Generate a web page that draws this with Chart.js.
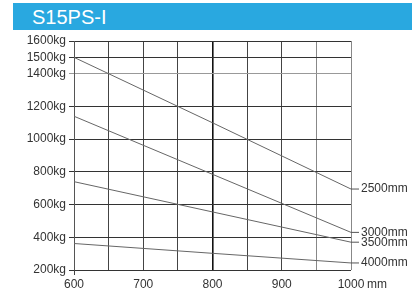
<!DOCTYPE html>
<html>
<head>
<meta charset="utf-8">
<script src="https://cdn.jsdelivr.net/npm/chart.js@4.4.0/dist/chart.umd.min.js"></script>
<style>
    html, body { margin: 0; padding: 0; background: #fff; }
    #wrap { position: relative; width: 412px; height: 294px; overflow: hidden; }
    #title {
        position: absolute; left: 13px; top: 3px; width: 399px; height: 27px;
        background: #29a8e0; color: #fff;
        font: 20px "Liberation Sans", Arial, sans-serif;
        line-height: 28px; padding-left: 19px; box-sizing: border-box;
    }
    canvas { position: absolute; left: 0; top: 0; }
</style>
</head>
<body>
<div id="wrap">
    <div id="title">S15PS-I</div>
    <canvas id="loadChart" width="412" height="294"></canvas>
</div>
<script>
// ============================================
// S15PS-I load chart: capacity vs load centre
// ============================================

const loadCentres = [600, 800, 1000];          // mm
const liftHeights = ['2500mm', '3000mm', '3500mm', '4000mm'];
const cap2500 = [1500, 1100, 695];             // kg
const cap3000 = [1140, 785, 430];
const cap3500 = [740, 555, 370];
const cap4000 = [362, 302, 243];
const yTicks = [200, 400, 600, 800, 1000, 1200, 1400, 1500, 1600];
const xTicks = [600, 700, 800, 900, 1000];

const FONT = '"Liberation Sans", Arial, sans-serif';
const TEXT = '#333';

function toPoints(values) {
    return loadCentres.map((x, i) => ({ x: x, y: values[i] }));
}

const seriesValues = [cap2500, cap3000, cap3500, cap4000];

// leader lines + labels at the right end of each curve
const endLabels = {
    id: 'endLabels',
    afterDatasetsDraw(chart) {
        const ctx = chart.ctx;
        ctx.save();
        ctx.font = '12px ' + FONT;
        ctx.fillStyle = TEXT;
        ctx.strokeStyle = '#555';
        ctx.lineWidth = 1;
        ctx.textBaseline = 'middle';
        ctx.textAlign = 'left';
        chart.data.datasets.forEach((ds, i) => {
            const pts = chart.getDatasetMeta(i).data;
            const last = pts[pts.length - 1];
            ctx.beginPath();
            ctx.moveTo(last.x, last.y);
            ctx.lineTo(last.x + 8, last.y);
            ctx.stroke();
            ctx.fillText(ds.label, last.x + 10, last.y);
        });
        // unit after the last x tick
        const xs = chart.scales.x;
        ctx.textBaseline = 'top';
        ctx.fillText('mm', xs.getPixelForValue(1000) + 16, chart.chartArea.bottom + 9);
        // the first vertical line runs a little below the axis
        ctx.strokeStyle = '#444';
        ctx.beginPath();
        ctx.moveTo(chart.chartArea.left + 0.5, chart.chartArea.bottom);
        ctx.lineTo(chart.chartArea.left + 0.5, chart.chartArea.bottom + 5);
        ctx.stroke();
        ctx.restore();
    }
};

const ctx = document.getElementById('loadChart').getContext('2d');

new Chart(ctx, {
    type: 'line',
    data: {
        datasets: seriesValues.map((vals, i) => ({
            label: liftHeights[i],
            data: toPoints(vals),
            borderColor: '#666',
            borderWidth: 1,
            pointRadius: 0,
            fill: false,
            tension: 0
        }))
    },
    options: {
        responsive: false,
        animation: false,
        layout: { padding: { left: 0, top: 41, right: 61, bottom: 0 } },
        plugins: {
            legend: { display: false },
            tooltip: { enabled: false }
        },
        scales: {
            x: {
                type: 'linear',
                min: 600,
                max: 1000,
                afterFit: s => { s.height = 24; },
                ticks: {
                    stepSize: 50,
                    color: TEXT,
                    font: { family: FONT, size: 12 },
                    padding: 7,
                    maxRotation: 0,
                    callback: v => xTicks.includes(v) ? String(v) : ''
                },
                grid: {
                    drawTicks: false,
                    color: c => c.tick && c.tick.value === 800 ? '#111' :
                        (c.tick && c.tick.value >= 950 ? '#888' : '#444'),
                    lineWidth: c => c.tick && c.tick.value === 800 ? 1.6 : 1
                },
                border: { display: false }
            },
            y: {
                min: 200,
                max: 1600,
                afterFit: s => { s.width = 74; },
                afterBuildTicks: s => { s.ticks = yTicks.map(v => ({ value: v })); },
                ticks: {
                    color: TEXT,
                    font: { family: FONT, size: 12 },
                    padding: 3,
                    callback: v => v + 'kg'
                },
                grid: {
                    tickLength: 5,
                    color: c => c.tick && c.tick.value === 1400 ? '#999' : '#333'
                },
                border: { color: '#555' }
            }
        }
    },
    plugins: [endLabels]
});
</script>
</body>
</html>
